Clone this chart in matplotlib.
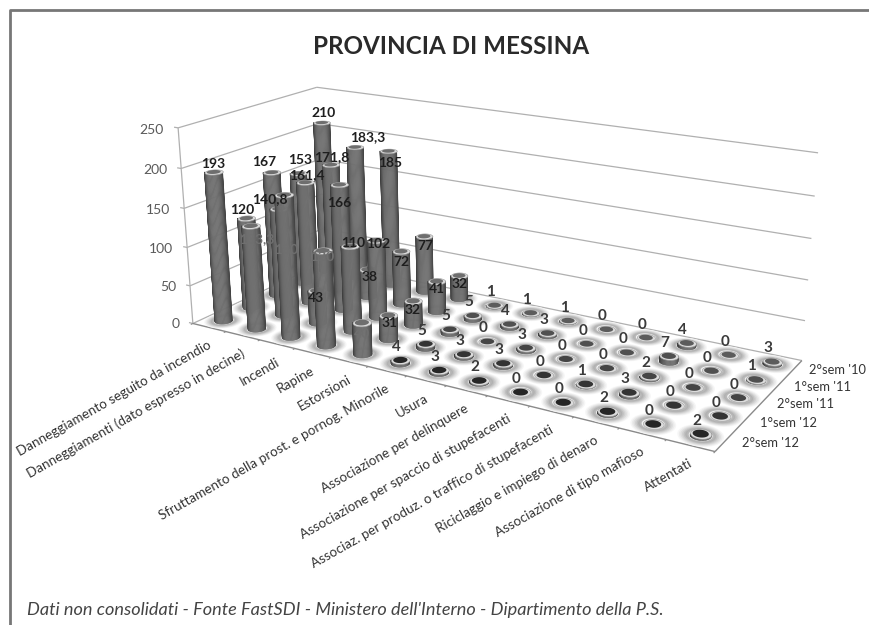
#!/usr/bin/env python3
# -*- coding: utf-8 -*-
import numpy as np
import matplotlib
matplotlib.use("Agg")
from matplotlib import pyplot as plt
from mpl_toolkits.mplot3d.art3d import Poly3DCollection, Line3DCollection

plt.rcParams["font.family"] = ["Lato", "DejaVu Sans"]

W, H = 869, 625

categories = ["Danneggiamento seguito da incendio", "Danneggiamenti (dato espresso in decine)",
              "Incendi", "Rapine", "Estorsioni", "Sfruttamento della prost. e pornog. Minorile",
              "Usura", "Associazione per delinquere", "Associazione per spaccio di stupefacenti",
              "Associaz. per produz. o traffico di stupefacenti", "Riciclaggio e impiego di denaro",
              "Associazione di tipo mafioso", "Attentati"]
semesters = ["2°sem '10", "1°sem '11", "2°sem '11", "1°sem '12", "2°sem '12"]
sem_10_2 = [210, 183.3, 185, 77, 32, 1, 1, 1, 0, 0, 4, 0, 3]
sem_11_1 = [153, 171.8, 38, 72, 41, 5, 4, 3, 0, 0, 7, 0, 1]
sem_11_2 = [167, 161.4, 166, 102, 32, 5, 0, 3, 0, 0, 2, 0, 0]
sem_12_1 = [120, 140.8, 43, 110, 31, 5, 3, 3, 0, 1, 3, 0, 0]
sem_12_2 = [193, 133.3, 180, 120, 40, 4, 3, 2, 0, 0, 2, 0, 2]
series = [sem_10_2, sem_11_1, sem_11_2, sem_12_1, sem_12_2]
z_ticks = [0, 50, 100, 150, 200, 250]

# label offsets in pixels (right, up) from the top of the cylinder, first 5 columns only
label_off = [
    [(2, 10), (13, 10), (2, -12), (1, -10), (1, -8)],
    [(2, 13), (1, 8), (2, -8), (0, -11), (0, -8)],
    [(-8, 10), (2, 7), (0, -18), (2, -4), (0, -9)],
    [(-4, 8), (-9, 10), (-1, -8), (3, 3), (1, -8)],
    [(-1, 8), (6, -13), (2, -55), (0, -7), (0, -11)],
]
small_off = (-4, 13)

# camera: floor and wall corners as they sit on the page
corner_world = [(0, 0, 0), (13, 0, 0), (13, 5, 0), (0, 5, 0), (0, 0, 250), (13, 5, 250), (0, 5, 250)]
corner_page = [(193, 323), (715, 452), (802, 360), (324, 263), (178, 128), (818, 153), (317, 87)]


def fit_camera(world, page):
    A, b = [], []
    for (x, y, z), (u, v) in zip(world, page):
        A.append([x, y, z, 1, 0, 0, 0, 0, -u * x, -u * y, -u * z])
        b.append(u)
        A.append([0, 0, 0, 0, x, y, z, 1, -v * x, -v * y, -v * z])
        b.append(v)
    p = np.linalg.lstsq(np.array(A, float), np.array(b, float), rcond=None)[0]
    return np.append(p, 1).reshape(3, 4)


P = fit_camera(corner_world, corner_page)


def page_xy(x, y, z=0):
    u, v, w = P @ np.array([x, y, z, 1.0])
    return np.array([u / w, v / w])


def jacobian(x, y):
    return np.column_stack([page_xy(x + 0.01, y) - page_xy(x, y), page_xy(x, y + 0.01) - page_xy(x, y)]) / 0.01


J_inv = np.linalg.inv(jacobian(6.5, 2.5))
theta = np.linspace(0, 2 * np.pi, 49)
ring = J_inv @ np.vstack([9.0 * np.cos(theta), 3.8 * np.sin(theta)])   # circle seen as flat ellipse


def ellipse(x, y, z, scale=1.0):
    return np.column_stack([x + scale * ring[0], y + scale * ring[1], np.full(theta.size, z)])


fig = plt.figure(figsize=(W / 100, H / 100), dpi=100)
ax = fig.add_axes([0, 0, 1, 1], projection="3d", computed_zorder=False)
ax.set_axis_off()
ax.set_autoscale_on(False)
ax.apply_aspect = lambda position=None: None
ax.viewLim.intervalx = (0, W)
ax.viewLim.intervaly = (0, H)
M = np.vstack([P[0], H * P[2] - P[1], [-0.05, 0.1, -0.001, 0], P[2]])
ax.get_proj = lambda: M


def put_text(x, y, z, s, dx=0, dy=0, **kw):
    u, v = page_xy(x, y, z)
    return ax.text2D(u + dx, H - v + dy, s, transform=ax.transData, **kw)


def add_lines(segments, color, lw):
    ax.add_collection3d(Line3DCollection(segments, colors=color, linewidths=lw, zorder=1), autolim=False)


# walls and floor edges
grid = "#b0b0b0"
for v in z_ticks:
    add_lines([[(0, 0, v), (0, 5, v)], [(0, 5, v), (13, 5, v)], [(-0.12, 0, v), (0, 0, v)]], grid, 0.9)
    put_text(-0.42, 0, v, str(v), dy=-4, ha="right", va="center", fontsize=10, color="#5a5a5a", zorder=30)
add_lines([[(0, 0, 0), (0, 0, 250)]], grid, 0.9)
add_lines([[(0, 0, 0), (13, 0, 0)], [(13, 0, 0), (13, 5, 0)]], "#8a8a8a", 1.0)
add_lines([[(c, 0, 0), (c, -0.07, 0)] for c in range(14)], "#8a8a8a", 0.8)

# soft shadow on the floor, outer ring first
halo_scale = [2.2, 2.05, 1.9, 1.75, 1.6, 1.45, 1.3, 1.12]
halo_grey = ["#f6f6f6", "#ebebeb", "#dedede", "#d0d0d0", "#c0c0c0", "#b2b2b2", "#b8b8b8", "#f2f2f2"]
top_grey = ["#5c5c5c", "#505050", "#454545", "#343434", "#262626"]

# floor halos first, then the cylinders from the far ones to the near ones
cells = [(s, c) for s in range(5) for c in range(13)]
cells.sort(key=lambda sc: page_xy(sc[1] + 0.5, 4.5 - sc[0])[1])
order = 3
for s, c in cells:
    x, y = c + 0.5, 4.5 - s
    for sc, g in zip(halo_scale, halo_grey):
        ax.add_collection3d(Poly3DCollection([ellipse(x, y, 0, sc)], facecolors=g, edgecolors="none",
                                             zorder=2), autolim=False)
for s, c in cells:
    x, y = c + 0.5, 4.5 - s
    v = series[s][c]
    if v > 0:
        base, top = ellipse(x, y, 0), ellipse(x, y, v)
        facets, colors = [], []
        for i in range(24):   # front half of the ring only
            facets.append([base[i], base[i + 1], top[i + 1], top[i]])
            u = np.cos(theta[i] + np.pi / 48)
            g = 0.44 - 0.20 * abs(u) ** 3 + 0.02 * u
            colors.append((g, g, g))
        ax.add_collection3d(Poly3DCollection(facets, facecolors=colors, edgecolors=colors, linewidths=0.4,
                                             zorder=order), autolim=False)
    ax.add_collection3d(Poly3DCollection([ellipse(x, y, v)], facecolors="#dcdcdc", edgecolors="#9a9a9a",
                                         linewidths=0.4, zorder=order + 0.1), autolim=False)
    inner = "#6e6e6e" if v > 10 else top_grey[s]
    ax.add_collection3d(Poly3DCollection([ellipse(x, y, v, 0.76)], facecolors=inner, edgecolors="none",
                                         zorder=order + 0.2), autolim=False)
    order += 1

# data labels
for s, row in enumerate(series):
    for c, v in enumerate(row):
        dx, dy = label_off[s][c] if c < 5 else small_off
        txt = f"{v:g}".replace(".", ",")
        hidden = s == 4 and 1 <= c <= 4
        color = "#6f6f6f" if hidden else ("#1e1e1e" if c < 5 else "#3a3a3a")
        put_text(c + 0.5, 4.5 - s, v, txt, dx=dx, dy=dy, ha="center", va="center",
                 fontsize=10 if c < 5 else 11, fontweight="bold", color=color, zorder=1000)

# category labels run along the front edge
for c, name in enumerate(categories):
    put_text(c + 0.5, 0, 0, name, dx=1, dy=-17, rotation=29.5, ha="right", va="center", rotation_mode="anchor",
             fontsize=9.7, color="#333333", zorder=30)
for s, name in enumerate(semesters):
    put_text(13.45, 4.5 - s, 6, name, dx=-6, dy=-2, ha="left", va="center", fontsize=9.3, color="#333333", zorder=30)

fig.text(451 / W, 1 - 46 / H, "PROVINCIA DI MESSINA", ha="center", va="center", fontsize=17.4,
         fontweight="bold", color="#2a2a2a")
fig.text(27 / W, 1 - 610 / H, "Dati non consolidati - Fonte FastSDI - Ministero dell'Interno - Dipartimento della P.S.",
         ha="left", va="center", fontsize=13.1, style="italic", color="#444444")

# chart frame, only top and left are inside the scan
fig.add_artist(plt.Line2D([1.0, 10 / W, 10 / W], [1 - 10 / H, 1 - 10 / H, 0], color="#777777", lw=2))

fig.savefig("out.png", dpi=100)
